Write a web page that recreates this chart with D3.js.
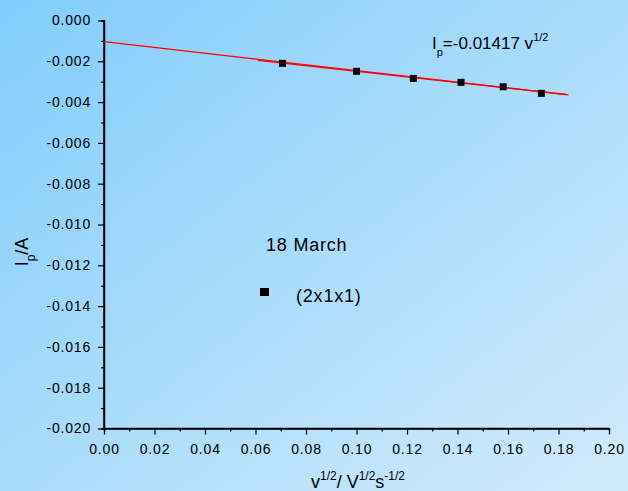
<!DOCTYPE html>
<html>
<head>
<meta charset="utf-8">
<script src="https://cdn.jsdelivr.net/npm/d3@7"></script>
<style>
  body { margin: 0; }
  svg { display: block; font-family: "Liberation Sans", Arial, sans-serif; }
</style>
</head>
<body>
<div id="chart"></div>
<script>
// data
var sqrtRate = [0.0707, 0.1000, 0.1225, 0.1414, 0.1581, 0.1732];
var peakCurrent = [-0.00210, -0.00249, -0.00284, -0.00303, -0.00325, -0.00357];
// two fitted lines: [x0, x1, intercept, slope]
var fitLines = [
  [0, 0.184, -0.00104, -0.01417],
  [0.061, 0.183, -0.00112, -0.01370]
];
var xTicks = d3.range(0, 0.2001, 0.02);
var yTicks = d3.range(0, -0.0201, -0.002);

var width = 628, height = 491;
var svg = d3.select('#chart').append('svg')
  .attr('width', width)
  .attr('height', height);

var defs = svg.append('defs');
var grad = defs.append('linearGradient')
  .attr('id', 'bg')
  .attr('x1', '0%').attr('y1', '0%')
  .attr('x2', '100%').attr('y2', '100%');
grad.append('stop').attr('offset', '0%').attr('stop-color', '#82cdfb');
grad.append('stop').attr('offset', '100%').attr('stop-color', '#d2ebfb');
svg.append('rect').attr('width', width).attr('height', height).attr('fill', 'url(#bg)');

var x = d3.scaleLinear().domain([0, 0.2]).range([104, 609]);
var y = d3.scaleLinear().domain([0, -0.02]).range([20.5, 428.5]);

// hyphen instead of unicode minus, like the original
function fmt(p) {
  var f = d3.format('.' + p + 'f');
  return function (d) {
    if (Math.abs(d) < 1e-9) d = 0;
    return f(d).replace('\u2212', '-');
  };
}

// minor ticks
var xAxisMinor = d3.axisBottom(x).tickValues(d3.range(0.01, 0.2, 0.02)).tickSize(3).tickFormat('');
var yAxisMinor = d3.axisLeft(y).tickValues(d3.range(-0.001, -0.02, -0.002)).tickSize(3).tickFormat('');
svg.append('g').attr('transform', 'translate(0,' + y(-0.02) + ')').call(xAxisMinor);
svg.append('g').attr('transform', 'translate(' + x(0) + ',0)').call(yAxisMinor);

var xAxis = d3.axisBottom(x).tickValues(xTicks).tickSize(6).tickPadding(10).tickFormat(fmt(2));
var yAxis = d3.axisLeft(y).tickValues(yTicks).tickSize(6).tickPadding(7).tickFormat(fmt(3));

var gx = svg.append('g').attr('transform', 'translate(0,' + y(-0.02) + ')').call(xAxis);
var gy = svg.append('g').attr('transform', 'translate(' + x(0) + ',0)').call(yAxis);

svg.selectAll('.domain').attr('stroke', '#000').attr('stroke-width', 1.5);
svg.selectAll('.tick line').attr('stroke', '#000').attr('stroke-width', 1.2);
svg.selectAll('.tick text').attr('fill', '#000').style('font-size', '14px')
  .style('letter-spacing', '0.8px')
  .style('font-family', '"Liberation Sans", Arial, sans-serif');
gx.select('.domain').attr('d', 'M' + x(0) + ',0H' + x(0.2));
gy.select('.domain').attr('d', 'M0,' + y(0) + 'V' + y(-0.02));

// fit lines
svg.selectAll('.fit')
  .data(fitLines)
  .enter().append('line')
  .attr('class', 'fit')
  .attr('x1', function (d) { return x(d[0]); })
  .attr('y1', function (d) { return y(d[2] + d[3] * d[0]); })
  .attr('x2', function (d) { return x(d[1]); })
  .attr('y2', function (d) { return y(d[2] + d[3] * d[1]); })
  .attr('stroke', '#ff0000')
  .attr('stroke-width', 1.3);

// points
svg.selectAll('.pt')
  .data(sqrtRate)
  .enter().append('rect')
  .attr('class', 'pt')
  .attr('x', function (d) { return x(d) - 3.5; })
  .attr('y', function (d, i) { return y(peakCurrent[i]) - 3.5; })
  .attr('width', 7).attr('height', 7)
  .attr('fill', '#000');

// equation
var eq = svg.append('text').attr('x', 432).attr('y', 49).style('font-size', '17px').attr('fill', '#000');
eq.append('tspan').text('I');
eq.append('tspan').attr('dy', 7).style('font-size', '11px').text('p');
eq.append('tspan').attr('dy', -7).text('=-0.01417 v');
eq.append('tspan').attr('dy', -8).style('font-size', '11px').text('1/2');

// legend
svg.append('text').attr('x', 266).attr('y', 251).style('font-size', '18px')
  .style('letter-spacing', '0.8px').attr('fill', '#000').text('18 March');
svg.append('rect').attr('x', 260).attr('y', 288).attr('width', 9).attr('height', 8).attr('fill', '#000');
svg.append('text').attr('x', 296).attr('y', 302).style('font-size', '18px')
  .style('letter-spacing', '0.8px').attr('fill', '#000').text('(2x1x1)');

// y axis label
var yl = svg.append('text')
  .attr('transform', 'translate(28,252) rotate(-90)')
  .attr('text-anchor', 'middle')
  .style('font-size', '18px').attr('fill', '#000');
yl.append('tspan').text('I');
yl.append('tspan').attr('dy', 7).style('font-size', '12px').text('p');
yl.append('tspan').attr('dy', -7).text('/A');

// x axis label
var xl = svg.append('text')
  .attr('x', 358).attr('y', 488)
  .attr('text-anchor', 'middle')
  .style('font-size', '18px').attr('fill', '#000');
xl.append('tspan').text('v');
xl.append('tspan').attr('dy', -8).style('font-size', '12px').text('1/2');
xl.append('tspan').attr('dy', 8).text('/ V');
xl.append('tspan').attr('dy', -8).style('font-size', '12px').text('1/2');
xl.append('tspan').attr('dy', 8).text('s');
xl.append('tspan').attr('dy', -8).style('font-size', '12px').text('-1/2');
</script>
</body>
</html>
